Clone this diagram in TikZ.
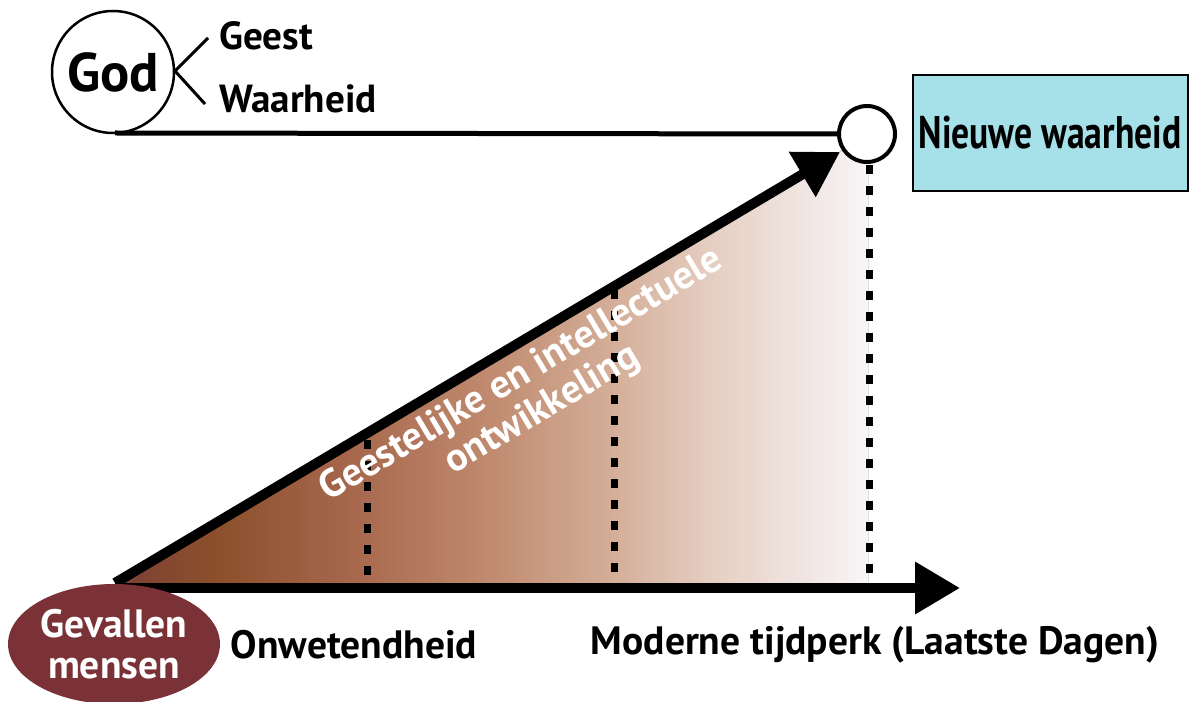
\documentclass[tikz,border=0pt]{standalone}
\usepackage{fontspec}
\setmainfont{PT Sans}
\usetikzlibrary{arrows.meta,shapes.geometric}
\definecolor{boxcyan}{HTML}{A6E0E8}
\definecolor{fallred}{HTML}{7A3236}
\definecolor{gA}{HTML}{7C4038}
\definecolor{gB}{HTML}{8B4F2B}
\definecolor{gC}{HTML}{A5654A}
\definecolor{gD}{HTML}{C08B70}
\definecolor{gE}{HTML}{D4AE98}
\definecolor{gF}{HTML}{E6D0C4}
\definecolor{gG}{HTML}{F8F5F8}
\pgfdeclarehorizontalshading{brownfade}{100bp}{color(0bp)=(gA); color(25bp)=(gA); color(31.5bp)=(gB); color(40bp)=(gC); color(50bp)=(gD); color(58bp)=(gE); color(65bp)=(gF); color(75bp)=(gG); color(100bp)=(gG)}
\tikzset{
  lbl/.style={font=\bfseries\fontsize{22.5}{24}\selectfont, inner sep=0pt},
  toplbl/.style={font=\bfseries\fontsize{22.3}{24}\selectfont, inner sep=0pt, anchor=west},
  dotline/.style={line width=7*0.02cm, dash pattern=on 9*0.02cm off 12*0.02cm},
  bigarrow/.style={line width=10*0.02cm, -{Triangle[length=0.9cm,width=1.0cm]}},
}
\begin{document}
\begin{tikzpicture}[x=0.02cm,y=-0.02cm]
\useasboundingbox (0,0) rectangle (1192,702);
% gradient triangle
\fill[shading=brownfade] (115,583) -- (868,135) -- (868,583) -- cycle;
% dotted verticals
\coordinate (d1t) at (367,440); \coordinate (d1b) at (367,578);
\coordinate (d2t) at (614,290); \coordinate (d2b) at (614,578);
\coordinate (d3t) at (869,165); \coordinate (d3b) at (869,580);
\draw[dotline] (d1t) -- (d1b);
\draw[dotline] (d2t) -- (d2b);
\draw[dotline] (d3t) -- (d3b);
% God
\node[circle, draw, line width=2.5*0.02cm, minimum size=122*0.02cm, inner sep=0pt, font=\bfseries\fontsize{31}{33}\selectfont] (god) at (113,72) {God};
\coordinate (fork) at (175,71);
\coordinate (fg) at (208,38);
\coordinate (fw) at (205,104);
\draw[line width=3*0.02cm] (fg) -- (fork) -- (fw);
\node[toplbl] (geest) at (219,36) {Geest};
\node[toplbl] (waar) at (219,99) {Waarheid};
% small circle and line
\node[circle, draw, fill=white, line width=4*0.02cm, minimum size=56*0.02cm, inner sep=0pt] (nc) at (867,134) {};
\coordinate (hl) at (115,133);
\draw[line width=5*0.02cm] (hl) -- (nc.west);
% box
\node[draw, fill=boxcyan, line width=2*0.02cm, minimum width=275*0.02cm, minimum height=116*0.02cm, inner sep=0pt] (nw) at (1050,133) {\bfseries\fontsize{26}{28}\selectfont\scalebox{0.78}[1]{Nieuwe waarheid}};
% arrows
\coordinate (origin) at (115,583);
\coordinate (diagtip) at (840,152);
\coordinate (axtip) at (960,588);
\coordinate (axstart) at (115,588);
\draw[bigarrow, -{Triangle[length=0.88cm,width=1.0cm]}] (origin) -- (diagtip);
\draw[bigarrow] (axstart) -- (axtip);
% rotated text
\node[white, align=center, rotate=30.7, font=\bfseries\fontsize{22.5}{23}\selectfont, inner sep=0pt] (dev) at (532,393) {Geestelijke en intellectuele\\ontwikkeling};
% fallen men
\node[ellipse, fill=fallred, minimum width=212*0.02cm, minimum height=120*0.02cm, inner sep=0pt, text=white, align=center, font=\bfseries\fontsize{22.5}{23}\selectfont] (fall) at (114,644) {Gevallen\\mensen};
\node[lbl] (onw) at (354,645) {Onwetendheid};
\node[lbl] (mod) at (875,645) {Moderne tijdperk (Laatste Dagen)};
\end{tikzpicture}
\end{document}
